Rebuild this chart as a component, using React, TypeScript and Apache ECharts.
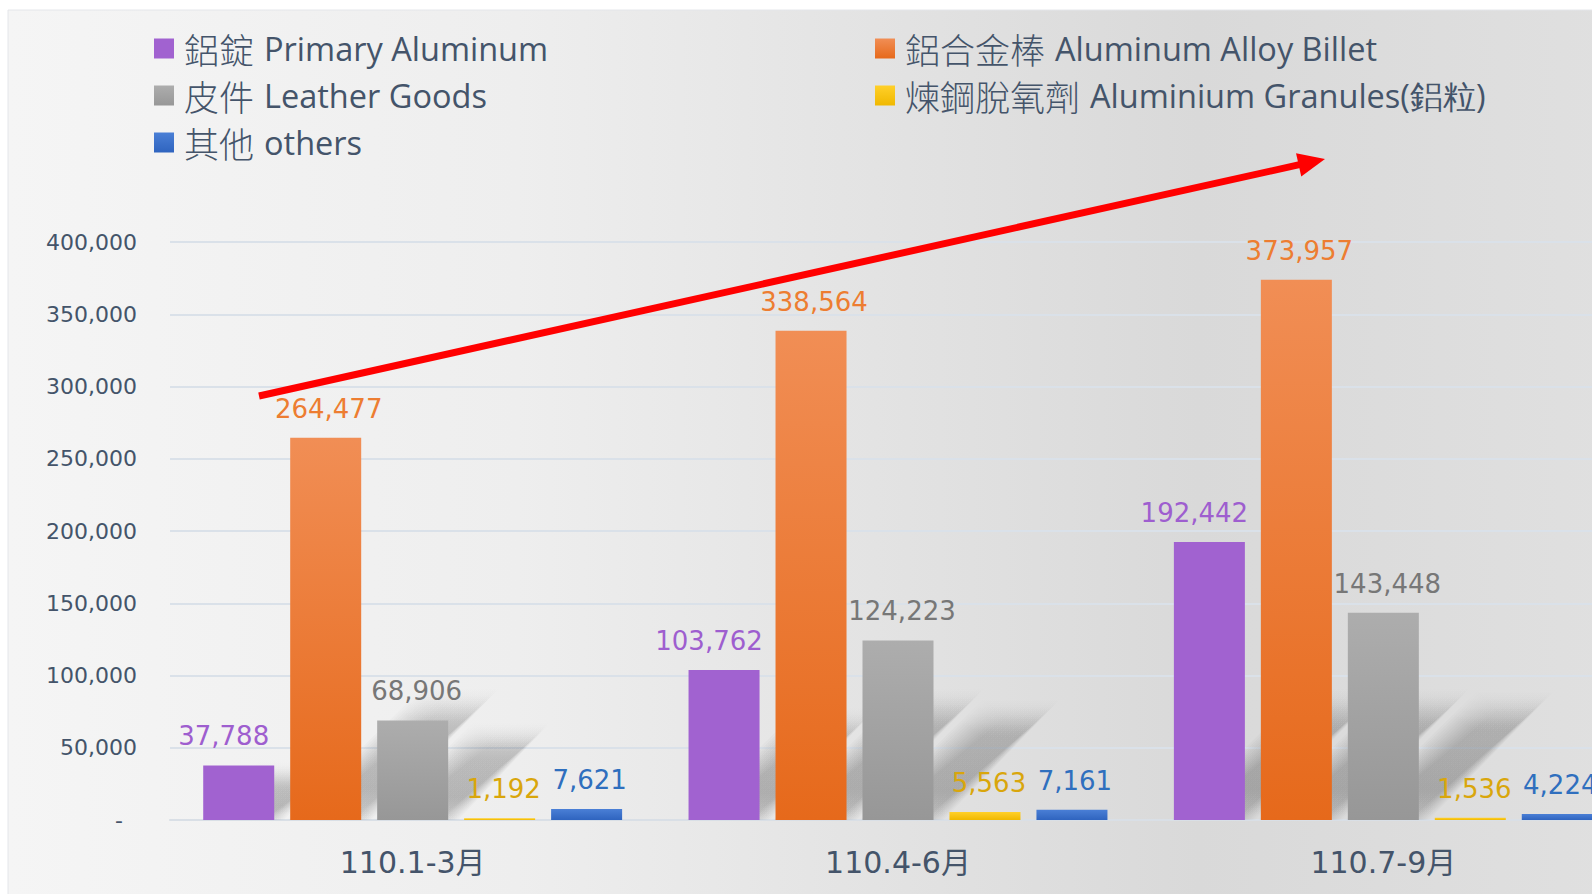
import React, { useEffect, useRef } from "react";
import * as echarts from "echarts";

const categories = ["110.1-3月", "110.4-6月", "110.7-9月"];
const seriesNames = [
  "鋁錠 Primary Aluminum",
  "鋁合金棒 Aluminum Alloy Billet",
  "皮件 Leather Goods",
  "煉鋼脫氧劑 Aluminium Granules(鋁粒)",
  "其他 others",
];
const primaryAluminum = [37788, 103762, 192442];
const alloyBillet = [264477, 338564, 373957];
const leatherGoods = [68906, 124223, 143448];
const granules = [1192, 5563, 1536];
const others = [7621, 7161, 4224];
const yTicks = [0, 50000, 100000, 150000, 200000, 250000, 300000, 350000, 400000];

const TEXT = "#44546A";
const NUM_FONT = "'DejaVu Sans', Verdana, sans-serif";

const grad = (top: string, bottom: string) =>
  new echarts.graphic.LinearGradient(0, 0, 0, 1, [
    { offset: 0, color: top },
    { offset: 1, color: bottom },
  ]);

export default function App() {
  const ref = useRef<HTMLDivElement>(null);
  useEffect(() => {
    if (!ref.current) return;
    const chart = echarts.init(ref.current, undefined, { renderer: "svg" });
    const values = [primaryAluminum, alloyBillet, leatherGoods, granules, others];
    const fills = [
      "#A162D0",
      grad("#F18E55", "#E6691B"),
      grad("#ADADAD", "#979797"),
      grad("#FFD02A", "#F0B800"),
      grad("#4A7FD6", "#2F64BF"),
    ];
    const labelColors = ["#9E5ECF", "#ED7D31", "#777777", "#D9A60C", "#2F6FBE"];
    const labelOffsets = [-15, 3, 4, 4, 3];

    const BAR_W = 71;
    const BAR_STEP = 87;

    const barSeries = values.map((v, i) => ({
      name: seriesNames[i],
      type: "bar",
      data: v,
      barWidth: BAR_W,
      barGap: "22.5%",
      z: 3,
      itemStyle: { color: fills[i] },
      label: {
        show: true,
        position: "top",
        distance: 16,
        offset: [labelOffsets[i], 0],
        color: labelColors[i],
        fontSize: 26,
        fontFamily: NUM_FONT,
        formatter: (p: any) => Number(p.value).toLocaleString("en-US"),
      },
    }));

    // shadow data: [categoryIndex, value, seriesIndex]
    const shadowData: number[][] = [];
    values.forEach((v, s) => v.forEach((val, c) => shadowData.push([c, val, s])));

    const shadowSeries = {
      type: "custom",
      silent: true,
      z: 1,
      data: shadowData,
      encode: { x: 0, y: 1 },
      renderItem: (params: any, api: any) => {
        const c = api.value(0);
        const val = api.value(1);
        const s = api.value(2);
        const top = api.coord([c, val]);
        const base = api.coord([c, 0]);
        const barH = base[1] - top[1];
        if (barH < 12) return null;
        const cx = base[0] + (s - 2) * BAR_STEP;
        const x0 = cx - BAR_W / 2;
        const x1 = cx + BAR_W / 2;
        const h = Math.min(barH * 0.9, 60 + 0.3 * barH, 125);
        const k = 1.05;
        const y0 = base[1];
        const layers = [];
        const n = 12;
        for (let j = 0; j < n; j++) {
          const e = (j - (n - 1) / 2) * 1.8;
          layers.push({
            type: "polygon",
            shape: {
              points: [
                [x0 + 8 - e, y0],
                [x1 + e, y0],
                [x1 + k * h + e, y0 - h - e],
                [x0 + k * h + 14 - e, y0 - h - e],
              ],
            },
            style: {
              fill: new echarts.graphic.LinearGradient(0, 1, 0, 0, [
                { offset: 0, color: "rgba(0,0,0,0.015)" },
                { offset: 0.25, color: "rgba(0,0,0,0.024)" },
                { offset: 0.75, color: "rgba(0,0,0,0.02)" },
                { offset: 1, color: "rgba(0,0,0,0.0)" },
              ]),
            },
          });
        }
        return { type: "group", children: layers };
      },
    };

    const legendFormatter = (name: string) => {
      const idx = name.indexOf(" ");
      return `{c|${name.slice(0, idx)}}{e|${name.slice(idx + 1)}}`;
    };
    const legendText = {
      color: TEXT,
      padding: [0, 0, 0, 5],
      rich: {
        c: {
          fontFamily: "'Noto Sans CJK TC', sans-serif",
          fontWeight: 300,
          fontSize: 35,
          lineHeight: 38,
          color: TEXT,
          padding: [0, 10, 0, 0],
        },
        e: {
          fontFamily: "'Open Sans', 'Noto Sans', sans-serif",
          fontSize: 32.5,
          lineHeight: 38,
          color: TEXT,
        },
      },
    };
    const legendCommon = {
      orient: "vertical",
      top: 31,
      padding: 0,
      itemGap: 12,
      itemWidth: 20,
      itemHeight: 20,
      icon: "rect",
      formatter: legendFormatter,
      textStyle: legendText,
      selectedMode: false,
    };

    // red arrow geometry
    const sx = 259, sy = 396, tx = 1325, ty = 159;
    const dx = tx - sx, dy = ty - sy;
    const len = Math.sqrt(dx * dx + dy * dy);
    const ux = dx / len, uy = dy / len;
    const hl = 27, hw = 12;
    const bx = tx - ux * hl, by = ty - uy * hl;
    const px = -uy, py = ux;

    chart.setOption({
      animation: false,
      backgroundColor: "#ffffff",
      legend: [
        { ...legendCommon, left: 154, data: [seriesNames[0], seriesNames[2], seriesNames[4]] },
        { ...legendCommon, left: 875, data: [seriesNames[1], seriesNames[3]] },
      ],
      grid: { left: 170, right: 34, top: 242, height: 578 },
      xAxis: {
        type: "category",
        data: categories,
        axisTick: { show: false },
        axisLine: { lineStyle: { color: "#D9DFE6", width: 2 } },
        axisLabel: {
          color: TEXT,
          fontSize: 30,
          fontFamily: "'DejaVu Sans', 'Noto Sans CJK TC', sans-serif",
          margin: 27,
        },
      },
      yAxis: {
        type: "value",
        min: 0,
        max: 400000,
        interval: 50000,
        axisLine: { show: false },
        axisTick: { show: false },
        splitLine: { lineStyle: { color: "#DAE1E9", width: 2 } },
        axisLabel: {
          color: TEXT,
          fontSize: 22,
          fontFamily: NUM_FONT,
          margin: 33,
          formatter: (v: number) =>
            v === 0 ? "{z|-}" : yTicks.includes(v) ? v.toLocaleString("en-US") : "",
          rich: { z: { color: TEXT, fontSize: 22, fontFamily: NUM_FONT, padding: [0, 14, 0, 0] } },
        },
      },
      graphic: [
        {
          type: "rect",
          z: -10,
          silent: true,
          shape: { x: 8, y: 10, width: 1700, height: 900 },
          style: {
            fill: new echarts.graphic.LinearGradient(0, 0, 1, 0, [
              { offset: 0, color: "#F5F5F5" },
              { offset: 0.3, color: "#EEEEEE" },
              { offset: 0.7, color: "#D9D9D9" },
              { offset: 0.95, color: "#E0E0E0" },
              { offset: 1, color: "#E2E2E2" },
            ]),
            stroke: "#E4E6EA",
            lineWidth: 1,
          },
        },
        {
          type: "line",
          z: 100,
          silent: true,
          shape: { x1: sx, y1: sy, x2: bx + ux * 2, y2: by + uy * 2 },
          style: { stroke: "#FF0000", lineWidth: 7 },
        },
        {
          type: "polygon",
          z: 100,
          silent: true,
          shape: {
            points: [
              [tx, ty],
              [bx + px * hw, by + py * hw],
              [bx - px * hw, by - py * hw],
            ],
          },
          style: { fill: "#FF0000" },
        },
      ],
      series: [shadowSeries, ...barSeries],
    });
    return () => chart.dispose();
  }, []);

  return (
    <div style={{ position: "fixed", left: 0, top: 0, width: 1592, height: 894, overflow: "hidden", background: "#fff" }}>
      <div ref={ref} style={{ width: 1660, height: 894 }} />
    </div>
  );
}
